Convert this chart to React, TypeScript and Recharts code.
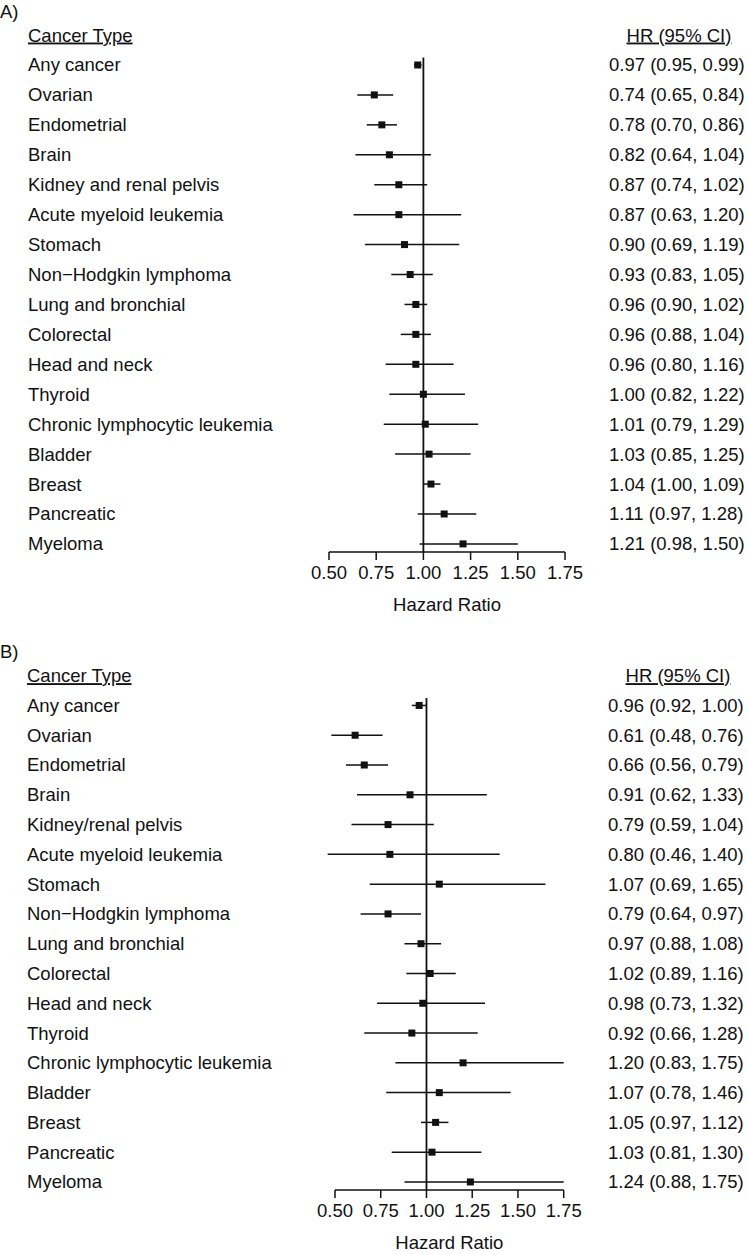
import React from "react";
import { ScatterChart, Scatter, XAxis, YAxis, ErrorBar, ReferenceLine } from "recharts";

const FONT = '"Liberation Sans", Arial, Helvetica, sans-serif';
const INK = "#111";
const FS = 18.5;

const cancerTypesA = [
  "Any cancer",
  "Ovarian",
  "Endometrial",
  "Brain",
  "Kidney and renal pelvis",
  "Acute myeloid leukemia",
  "Stomach",
  "Non\u2212Hodgkin lymphoma",
  "Lung and bronchial",
  "Colorectal",
  "Head and neck",
  "Thyroid",
  "Chronic lymphocytic leukemia",
  "Bladder",
  "Breast",
  "Pancreatic",
  "Myeloma",
];
const hrA = [0.97, 0.74, 0.78, 0.82, 0.87, 0.87, 0.9, 0.93, 0.96, 0.96, 0.96, 1.0, 1.01, 1.03, 1.04, 1.11, 1.21];
const lowA = [0.95, 0.65, 0.7, 0.64, 0.74, 0.63, 0.69, 0.83, 0.9, 0.88, 0.8, 0.82, 0.79, 0.85, 1.0, 0.97, 0.98];
const highA = [0.99, 0.84, 0.86, 1.04, 1.02, 1.2, 1.19, 1.05, 1.02, 1.04, 1.16, 1.22, 1.29, 1.25, 1.09, 1.28, 1.5];

const cancerTypesB = [
  "Any cancer",
  "Ovarian",
  "Endometrial",
  "Brain",
  "Kidney/renal pelvis",
  "Acute myeloid leukemia",
  "Stomach",
  "Non\u2212Hodgkin lymphoma",
  "Lung and bronchial",
  "Colorectal",
  "Head and neck",
  "Thyroid",
  "Chronic lymphocytic leukemia",
  "Bladder",
  "Breast",
  "Pancreatic",
  "Myeloma",
];
const hrB = [0.96, 0.61, 0.66, 0.91, 0.79, 0.8, 1.07, 0.79, 0.97, 1.02, 0.98, 0.92, 1.2, 1.07, 1.05, 1.03, 1.24];
const lowB = [0.92, 0.48, 0.56, 0.62, 0.59, 0.46, 0.69, 0.64, 0.88, 0.89, 0.73, 0.66, 0.83, 0.78, 0.97, 0.81, 0.88];
const highB = [1.0, 0.76, 0.79, 1.33, 1.04, 1.4, 1.65, 0.97, 1.08, 1.16, 1.32, 1.28, 1.75, 1.46, 1.12, 1.3, 1.75];

const xTicks = [0.5, 0.75, 1.0, 1.25, 1.5, 1.75];

const Y_TOP = -1.6;
const Y_BOTTOM = 16.27;
const rowTicks = [-1, ...cancerTypesA.map((_, i) => i)];

type PanelProps = {
  letter: string;
  categories: string[];
  hr: number[];
  low: number[];
  high: number[];
  height: number;
  marginTop: number;
  leftWidth: number;
  rightWidth: number;
  axisHeight: number;
  labelOffset: number;
  textX: number;
  ciX: number;
  ciHeaderX: number;
};

const ForestPanel = (props: PanelProps) => {
  const data = props.categories.map((c, i) => ({
    row: i,
    hr: props.hr[i],
    err: [props.hr[i] - props.low[i], props.high[i] - props.hr[i]],
  }));

  const fmt = (v: number) => v.toFixed(2);

  const LeftTick = (p: any) => {
    const v = p.payload.value;
    const isHeader = v === -1;
    return (
      <text
        x={props.textX}
        y={p.y}
        dy="0.35em"
        textAnchor="start"
        fontFamily={FONT}
        fontSize={FS}
        fill={INK}
        textDecoration={isHeader ? "underline" : undefined}
      >
        {isHeader ? "Cancer Type" : props.categories[v]}
      </text>
    );
  };

  const RightTick = (p: any) => {
    const v = p.payload.value;
    if (v === -1) {
      return (
        <text x={props.ciHeaderX} y={p.y} dy="0.35em" textAnchor="middle" fontFamily={FONT} fontSize={FS} fill={INK} textDecoration="underline">
          HR (95% CI)
        </text>
      );
    }
    return (
      <text x={props.ciX} y={p.y} dy="0.35em" textAnchor="start" fontFamily={FONT} fontSize={FS} fill={INK}>
        {`${fmt(props.hr[v])} (${fmt(props.low[v])}, ${fmt(props.high[v])})`}
      </text>
    );
  };

  const square = (p: any) => (
    <rect x={p.cx - 3.5} y={p.cy - 3.5} width={7} height={7} fill={INK} />
  );

  return (
    <div style={{ position: "relative", width: 748, height: props.height }}>
      <div style={{ position: "absolute", left: 0, top: props.letter === "A)" ? 2 : 22, fontFamily: FONT, fontSize: FS, lineHeight: "20px", color: INK }}>
        {props.letter}
      </div>
      <ScatterChart width={748} height={props.height} margin={{ top: props.marginTop, right: 0, bottom: 0, left: 0 }}>
        <XAxis
          type="number"
          dataKey="hr"
          domain={[0.4, 1.85]}
          ticks={xTicks}
          tickFormatter={fmt}
          axisLine={false}
          tickLine={{ stroke: INK, strokeWidth: 1.5 }}
          tickSize={8}
          tickMargin={6}
          height={props.axisHeight}
          tick={{ fontFamily: FONT, fontSize: FS, fill: INK }}
          label={{ value: "Hazard Ratio", position: "insideBottom", offset: props.labelOffset, fontFamily: FONT, fontSize: FS, fill: INK }}
          allowDataOverflow
        />
        <YAxis
          yAxisId="left"
          type="number"
          dataKey="row"
          domain={[Y_TOP, Y_BOTTOM]}
          ticks={rowTicks}
          reversed
          width={props.leftWidth}
          axisLine={false}
          tickLine={false}
          tick={LeftTick}
          allowDataOverflow
          interval={0}
        />
        <YAxis
          yAxisId="right"
          orientation="right"
          type="number"
          domain={[Y_TOP, Y_BOTTOM]}
          ticks={rowTicks}
          reversed
          width={props.rightWidth}
          axisLine={false}
          tickLine={false}
          tick={RightTick}
          allowDataOverflow
          interval={0}
        />
        <ReferenceLine
          yAxisId="left"
          segment={[{ x: 1, y: -0.25 }, { x: 1, y: Y_BOTTOM }]}
          stroke={INK}
          strokeWidth={1.8}
          ifOverflow="visible"
        />
        <ReferenceLine
          yAxisId="left"
          segment={[{ x: 0.5, y: Y_BOTTOM }, { x: 1.75, y: Y_BOTTOM }]}
          stroke={INK}
          strokeWidth={1.5}
          ifOverflow="visible"
        />
        <Scatter yAxisId="left" data={data} shape={square} isAnimationActive={false}>
          <ErrorBar dataKey="err" direction="x" width={0} stroke={INK} strokeWidth={1.5} />
        </Scatter>
      </ScatterChart>
    </div>
  );
};

export default function App() {
  return (
    <div style={{ position: "absolute", left: 0, top: 0, width: 748, height: 1255, background: "#fff" }}>
      <ForestPanel
        letter="A)"
        categories={cancerTypesA}
        hr={hrA}
        low={lowA}
        high={highA}
        height={620}
        marginTop={17.1}
        leftWidth={310.1}
        rightWidth={164.1}
        axisHeight={68}
        labelOffset={8.6}
        textX={28}
        ciX={609}
        ciHeaderX={679}
      />
      <ForestPanel
        letter="B)"
        categories={cancerTypesB}
        hr={hrB}
        low={lowB}
        high={highB}
        height={635}
        marginTop={37.8}
        leftWidth={316.7}
        rightWidth={166}
        axisHeight={65}
        labelOffset={5.6}
        textX={27}
        ciX={608}
        ciHeaderX={678}
      />
    </div>
  );
}
